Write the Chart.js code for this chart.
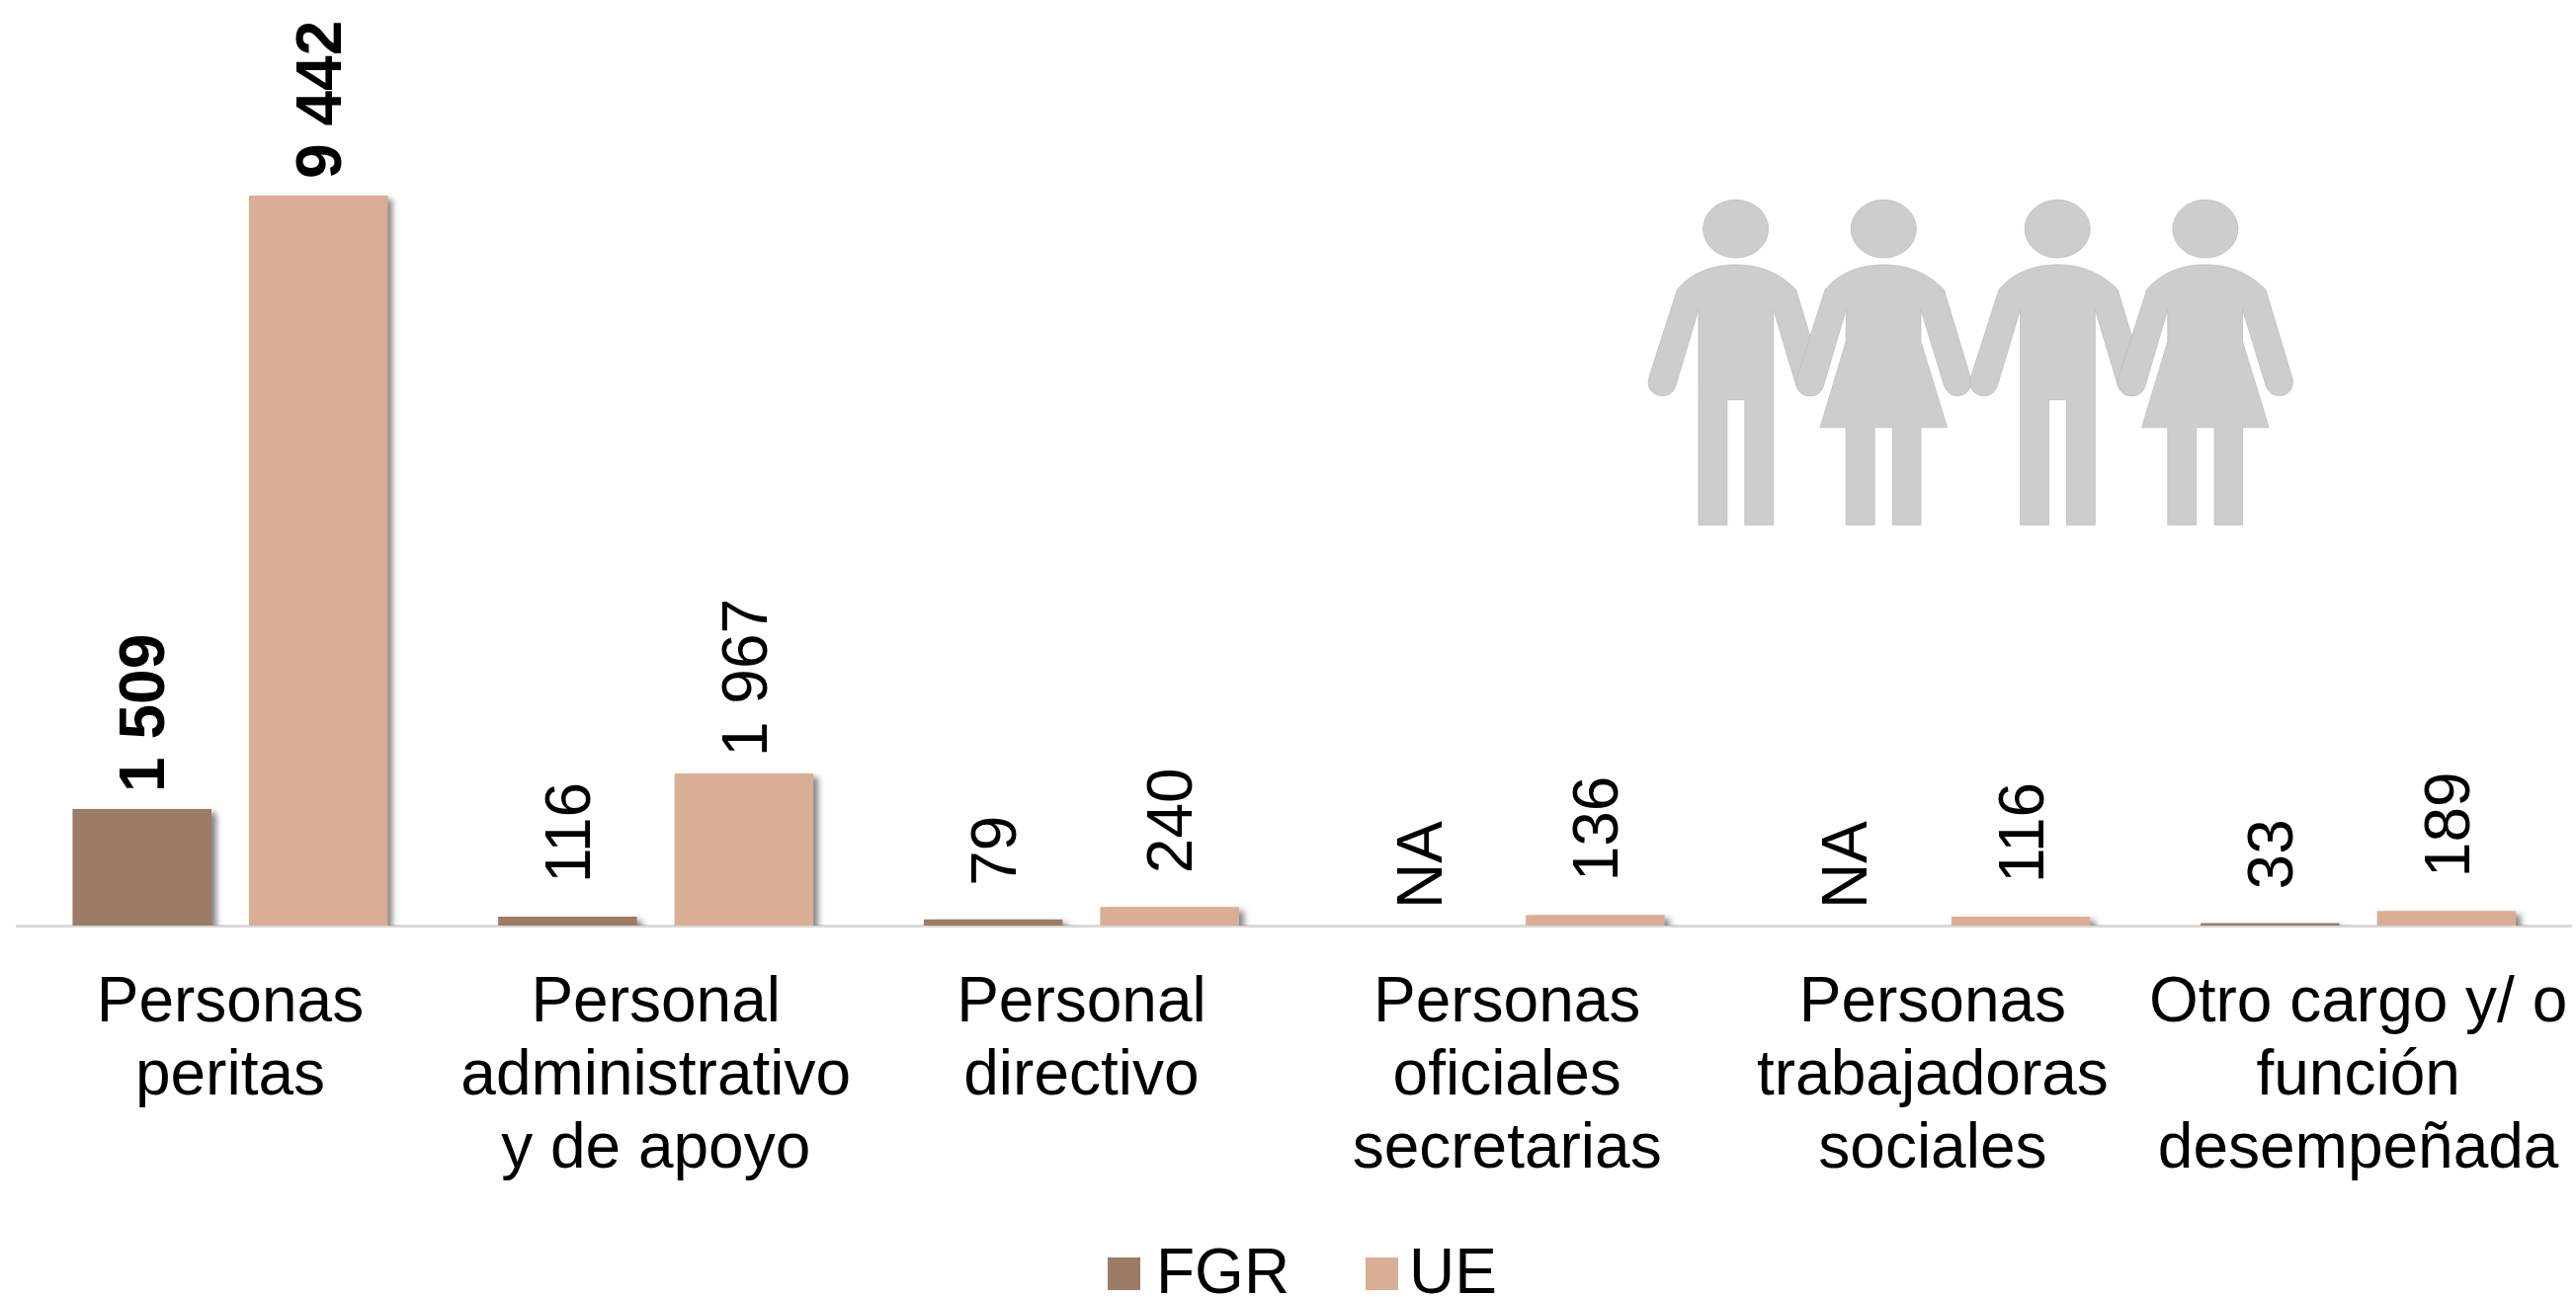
<!DOCTYPE html>
<html lang="es">
<head>
<meta charset="utf-8">
<style>html,body{margin:0;padding:0;background:#fff}#wrap{width:2607px;height:1313px;position:relative}canvas{display:block}</style>
<script src="https://cdn.jsdelivr.net/npm/chart.js@4"></script>
</head>
<body>
<div id="wrap"><canvas id="c"></canvas></div>
<script>
const categories = [
  ["Personas","peritas"],
  ["Personal","administrativo","y de apoyo"],
  ["Personal","directivo"],
  ["Personas","oficiales","secretarias"],
  ["Personas","trabajadoras","sociales"],
  ["Otro cargo y/ o","función","desempeñada"]
];
const fgrValues = [1509,116,79,null,null,33];
const ueValues = [9442,1967,240,136,116,189];
const seriesNames = ["FGR","UE"];
const seriesColors = ["#9C7C66","#D9AE94"];
const FONT = '"Liberation Sans", Arial, sans-serif';

function fmt(v){ return v===null ? "NA" : String(v).replace(/\B(?=(\d{3})+$)/g," "); }

const barShadow = {
  id:'barShadow',
  beforeDatasetDraw(chart){ const c=chart.ctx; c.save(); c.shadowColor='rgba(80,80,80,0.7)'; c.shadowBlur=6; c.shadowOffsetX=5; c.shadowOffsetY=4; },
  afterDatasetDraw(chart){ chart.ctx.restore(); }
};

const valueLabels = {
  id:'valueLabels',
  afterDatasetsDraw(chart){
    const c=chart.ctx, zero=chart.scales.y.getPixelForValue(0);
    chart.data.datasets.forEach((ds,di)=>{
      chart.getDatasetMeta(di).data.forEach((bar,i)=>{
        const v=ds.data[i], top=v===null?zero:bar.y;
        const big=v!==null && i===0 && v>=1000;
        const lift=(v===null || v>=1000) ? 17 : 34;
        c.save();
        c.translate(bar.x+5, top-lift);
        c.rotate(-Math.PI/2);
        c.font=(big?'bold ':'')+'64px '+FONT;
        c.fillStyle='#000'; c.textAlign='left'; c.textBaseline='middle';
        c.fillText(fmt(v),0,0);
        c.restore();
      });
    });
  }
};

const customLegend = {
  id:'customLegend',
  afterDraw(chart){
    const c=chart.ctx;
    const boxes=[1121,1382], texts=[1170,1426];
    c.save();
    c.font='64px '+FONT; c.textBaseline='alphabetic'; c.textAlign='left';
    chart.data.datasets.forEach((ds,i)=>{
      c.fillStyle=ds.backgroundColor; c.fillRect(boxes[i],1273,33,33);
      c.fillStyle='#000'; c.fillText(ds.label,texts[i],1309);
    });
    c.restore();
  }
};

const manBody='M254 264C200 264 155 290 125 340L62 610C58 640 72 662 92 662C108 662 118 650 122 630L172 400L172 1054L235 1054L235 674L274 674L274 1054L337 1054L337 400L387 630C392 650 402 662 417 662C436 662 450 640 446 610L387 340C352 290 308 264 254 264Z';
const womanBody='M580 264C526 264 481 290 451 340L388 610C384 640 398 662 417 662C434 662 444 650 448 630L497 400L497 497L440 758L497 758L497 1054L560 1054L560 758L600 758L600 1054L662 1054L662 758L720 758L662 497L662 400L713 630C718 650 728 662 743 662C762 662 776 640 772 610L713 340C678 290 634 264 580 264Z';
const people = {
  id:'people',
  beforeDatasetsDraw(chart){
    const c=chart.ctx;
    const draw=(path,hx,dx)=>{
      c.save();
      c.translate(1640,180); c.scale(720/1568,1/3); c.translate(dx,0);
      const p=new Path2D(path);
      p.moveTo(hx+72,155); p.ellipse(hx,155,72,88,0,0,Math.PI*2);
      c.fillStyle='#CDCDCD'; c.fill(p);
      c.strokeStyle='#BDBDBD'; c.lineWidth=2; c.stroke(p);
      c.restore();
    };
    draw(manBody,254,0); draw(womanBody,580,0); draw(manBody,254,709); draw(womanBody,580,709);
  }
};

new Chart(document.getElementById('c'),{
  type:'bar',
  data:{labels:categories,datasets:[
    {label:seriesNames[0],data:fgrValues,backgroundColor:seriesColors[0]},
    {label:seriesNames[1],data:ueValues,backgroundColor:seriesColors[1]}
  ]},
  plugins:[people,barShadow,valueLabels,customLegend],
  options:{
    responsive:true,maintainAspectRatio:false,animation:false,
    layout:{padding:{left:17.6,right:5,top:0,bottom:0}},
    datasets:{bar:{categoryPercentage:0.829,barPercentage:0.787}},
    plugins:{legend:{display:false},tooltip:{enabled:false}},
    scales:{
      y:{display:false,min:0,max:11970},
      x:{
        afterFit(s){s.height=376;s.paddingLeft=0;s.paddingRight=0;},
        grid:{display:false},
        border:{display:true,color:'#D9D9D9',width:3},
        ticks:{color:'#000',font:{family:FONT,size:64,lineHeight:1.15},padding:35,maxRotation:0,minRotation:0,autoSkip:false}
      }
    }
  }
});
</script>
</body>
</html>
